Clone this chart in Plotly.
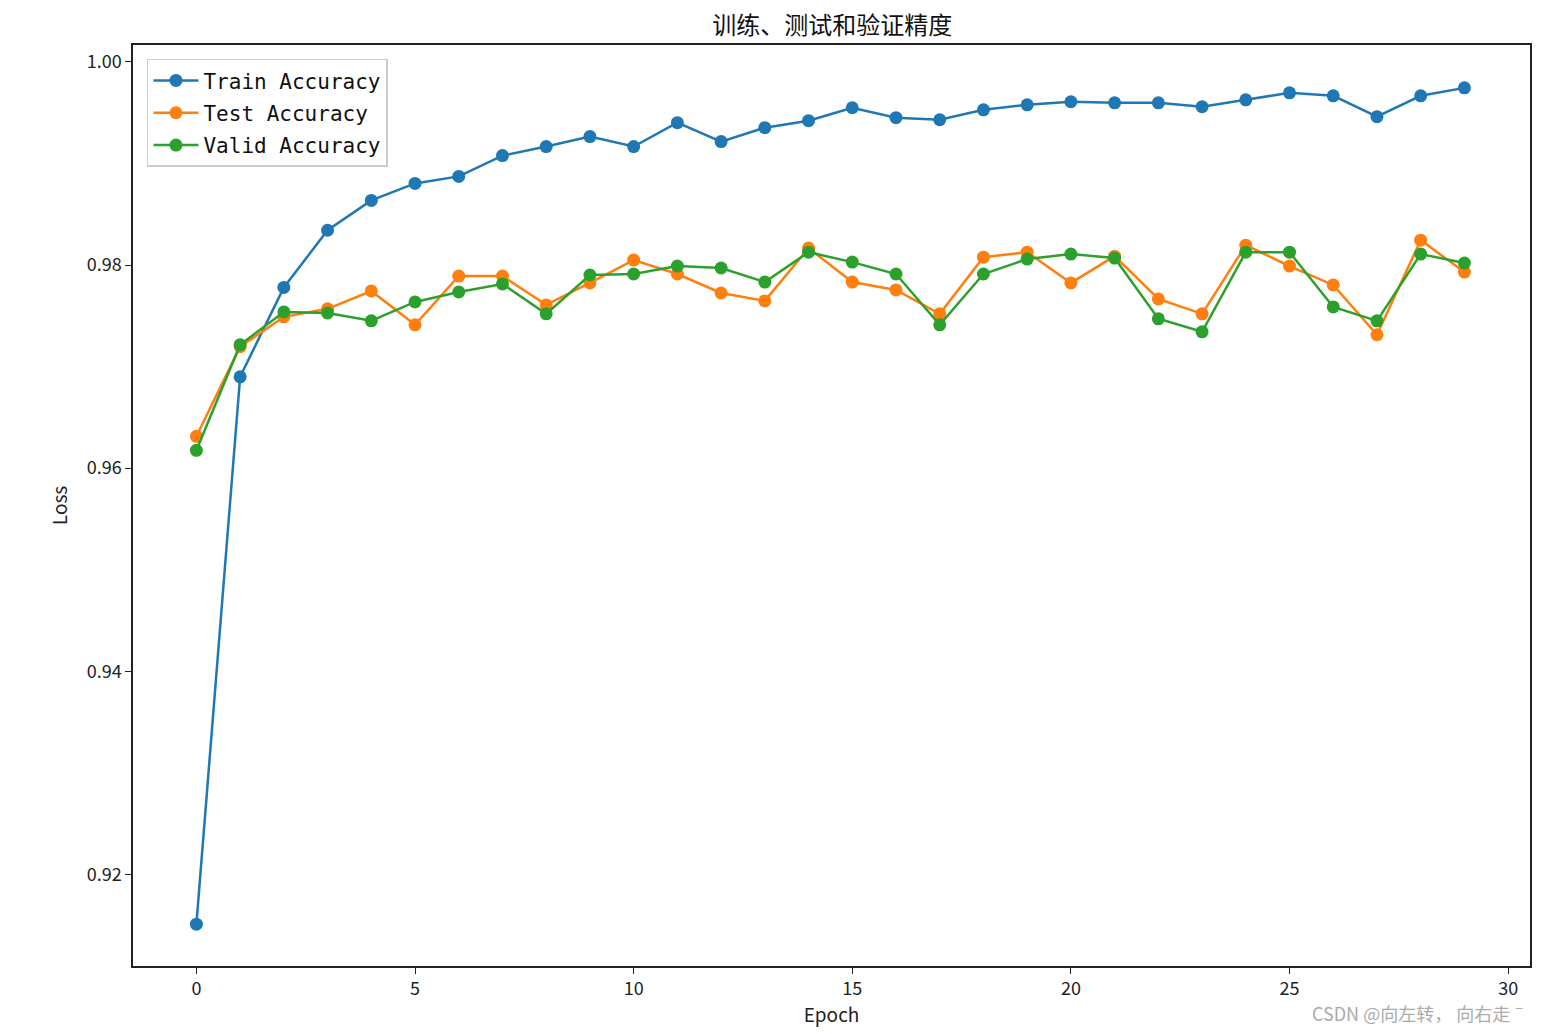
import plotly.graph_objects as go

epochs = list(range(30))
train_acc = [0.9151, 0.9690, 0.9778, 0.98343, 0.98637, 0.98804, 0.98873, 0.99078, 0.99167, 0.99265,
             0.99167, 0.99402, 0.99216, 0.99353, 0.99422, 0.99549, 0.99451, 0.99431, 0.99529, 0.99578,
             0.99608, 0.99598, 0.99598, 0.99559, 0.99627, 0.99696, 0.99667, 0.99461, 0.99667, 0.99745]
test_acc = [0.96314, 0.97196, 0.97490, 0.97569, 0.97745, 0.97412, 0.97892, 0.97892, 0.97608, 0.97824,
            0.98049, 0.97912, 0.97725, 0.97647, 0.98167, 0.97833, 0.97755, 0.97520, 0.98078, 0.98127,
            0.97824, 0.98088, 0.97667, 0.97520, 0.98196, 0.97990, 0.97804, 0.97314, 0.98245, 0.97931]
valid_acc = [0.96176, 0.97216, 0.97539, 0.97529, 0.97451, 0.97637, 0.97735, 0.97814, 0.97520, 0.97902,
             0.97912, 0.97990, 0.97971, 0.97833, 0.98127, 0.98029, 0.97912, 0.97412, 0.97912, 0.98059,
             0.98108, 0.98069, 0.97471, 0.97343, 0.98127, 0.98127, 0.97588, 0.97451, 0.98108, 0.98020]

series = [("Train Accuracy", train_acc, "#1f77b4"),
          ("Test Accuracy", test_acc, "#ff7f0e"),
          ("Valid Accuracy", valid_acc, "#2ca02c")]

x_ticks = [0, 5, 10, 15, 20, 25, 30]
y_ticks = [0.92, 0.94, 0.96, 0.98, 1.00]
y_tick_text = ["0.92", "0.94", "0.96", "0.98", "1.00"]

fig = go.Figure()
for i, (name, vals, color) in enumerate(series):
    fig.add_trace(go.Scatter(x=epochs, y=vals, name=name, mode="lines+markers",
                             legendgroup=f"g{i}",
                             line=dict(color=color, width=2.5),
                             marker=dict(color=color, size=13)))

axis_common = dict(showgrid=False, zeroline=False, showline=True, linecolor="#222", linewidth=1.5,
                   mirror=True, ticks="outside", ticklen=6, tickcolor="#222",
                   tickfont=dict(family="Noto Sans CJK SC", size=18, color="#222"))

fig.update_layout(
    width=1547, height=1034,
    margin=dict(l=133, r=17, t=45, b=64),
    plot_bgcolor="white", paper_bgcolor="white",
    title=dict(text="训练、测试和验证精度", x=0.538, xanchor="center", y=0.975, yanchor="middle",
               font=dict(family="Noto Sans CJK SC", size=24, color="#111")),
    xaxis=dict(range=[-1.45, 30.5], tickvals=x_ticks,
               title=dict(text="Epoch", font=dict(family="Noto Sans CJK SC", size=19, color="#222"), standoff=8),
               **axis_common),
    yaxis=dict(range=[0.91098, 1.00167], tickvals=y_ticks, ticktext=y_tick_text,
               title=dict(text="Loss", font=dict(family="Noto Sans CJK SC", size=19, color="#222"), standoff=14),
               **axis_common),
    legend=dict(x=0.01, y=0.985, xanchor="left", yanchor="top",
                bgcolor="rgba(255,255,255,0.8)", bordercolor="#ccc", borderwidth=1.5,
                font=dict(family="DejaVu Sans Mono", size=21, color="#111"),
                tracegroupgap=2, itemwidth=45),
    showlegend=True,
)

fig.add_annotation(text="CSDN @向左转， 向右走ˉ", xref="paper", yref="paper", x=1.0, y=-0.051,
                   xanchor="right", yanchor="middle", showarrow=False,
                   font=dict(family="Noto Sans CJK SC", size=18, color="#aaa"))

fig.write_html("out.html")
